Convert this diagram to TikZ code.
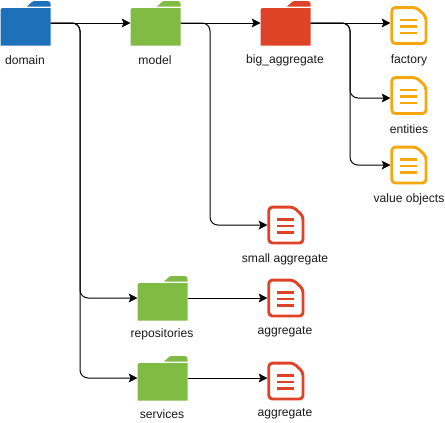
\documentclass[tikz,border=0pt]{standalone}
\usepackage{fontspec}
\setmainfont{Liberation Sans}
\usetikzlibrary{arrows.meta}
\definecolor{fblue}{HTML}{1F70BA}
\definecolor{fgreen}{HTML}{80BB43}
\definecolor{fred}{HTML}{DF4327}
\definecolor{forange}{HTML}{F5A70D}
\tikzset{
  anchorbox/.style={inner sep=0pt,outer sep=0pt,minimum width=#1},
  lab/.style={inner sep=0pt,font=\fontsize{9.1}{11}\selectfont,text=black!90,anchor=center},
  conn/.style={draw=black,line width=0.75pt,-{Stealth[length=6.6pt,width=6.6pt,inset=1.4pt]}},
  elbow/.style={conn,rounded corners=6pt},
  docline/.style={line width=2.1pt,line cap=butt}
}
% name, left x, centre y, colour
\newcommand{\folderfig}[4]{%
  \begin{scope}[shift={(#2,#3)}]
    \fill[#4] (0.7,-13.5) .. controls (0.7,-14.5) and (1,-15) .. (2,-15) -- (50.5,-15) -- (50.5,22.5) -- (0.7,22.5) -- cycle;
    \fill[#4] (27,-16.5) -- (32,-21) .. controls (32.5,-21.6) and (33,-22) .. (34,-22) -- (47.5,-22) .. controls (49.5,-22) and (50.5,-21) .. (50.5,-19) -- (50.5,-16.5) -- cycle;
    \node[anchorbox=37.5pt,minimum height=33pt] (#1) at (25.5,0) {};
  \end{scope}}
% name, left x, top y, colour
\newcommand{\docfig}[4]{%
  \begin{scope}[shift={(#2,#3)}]
    \draw[#4,line width=2.15pt,line join=round,rounded corners=2.6pt] (1.8,1.6) -- (26.5,1.6) -- (36,10.5) -- (36,37.5) -- (1.8,37.5) -- cycle;
    \draw[#4,docline] (10,14) -- (27,14);
    \draw[#4,docline] (10,20.5) -- (27,20.5);
    \draw[#4,docline] (10,27) -- (27,27);
    \node[anchorbox=27.2pt,minimum height=29.5pt] (#1) at (18.6,19.6) {};
  \end{scope}}
\begin{document}
\begin{tikzpicture}[x=0.75pt,y=-0.75pt]
\useasboundingbox (0,0) rectangle (445,422);
\folderfig{domain}{0}{23}{fblue}
\folderfig{model}{130}{23}{fgreen}
\folderfig{big}{260}{23}{fred}
\folderfig{repos}{137}{298}{fgreen}
\folderfig{servs}{137}{378}{fgreen}
\docfig{factory}{390}{6}{forange}
\docfig{entities}{390}{76}{forange}
\docfig{values}{390}{145.5}{forange}
\docfig{small}{267}{205.5}{fred}
\docfig{aggone}{267}{278.5}{fred}
\docfig{aggtwo}{267}{361.5}{fred}
\node[lab] (tdomain) at (25,60) {domain};
\node[lab] (tmodel) at (155,60) {model};
\node[lab] (tbig) at (285,60) {big\_aggregate};
\node[lab] (tfactory) at (409,60) {factory};
\node[lab] (tentities) at (409,129) {entities};
\node[lab] (tvalues) at (409,199) {value objects};
\node[lab] (tsmall) at (285,259) {small aggregate};
\node[lab] (trepos) at (162,334) {repositories};
\node[lab] (taggone) at (285,332) {aggregate};
\node[lab] (tservs) at (162,414) {services};
\node[lab] (taggtwo) at (285,414) {aggregate};
\coordinate (dtrunk) at (80,23);
\coordinate (mtrunk) at (210,23);
\coordinate (btrunk) at (350,23);
\coordinate (entin) at (entities.west |- 0,98);
\draw[conn] (domain.east) -- (model.west);
\draw[elbow] (domain.east) -- (dtrunk) |- (repos.west);
\draw[elbow] (domain.east) -- (dtrunk) |- (servs.west);
\draw[conn] (model.east) -- (big.west);
\draw[elbow] (model.east) -- (mtrunk) |- (small.west);
\draw[conn] (big.east) -- (big.east -| factory.west);
\draw[elbow] (big.east) -- (btrunk) |- (entin);
\draw[elbow] (big.east) -- (btrunk) |- (values.west);
\draw[conn] (repos.east) -- (repos.east -| aggone.west);
\draw[conn] (servs.east) -- (servs.east -| aggtwo.west);
\end{tikzpicture}
\end{document}
